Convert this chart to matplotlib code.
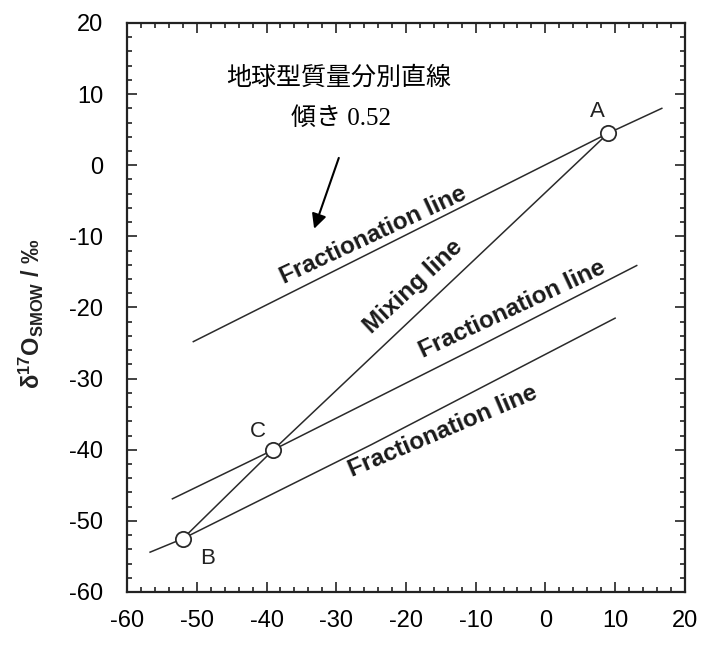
import numpy as np
import matplotlib
matplotlib.use('Agg')
import matplotlib.pyplot as plt
from matplotlib.ticker import MultipleLocator

plt.rcParams['font.family'] = ['Liberation Sans', 'DejaVu Sans']
plt.rcParams['axes.unicode_minus'] = False
plt.rcParams['mathtext.fontset'] = 'custom'
plt.rcParams['mathtext.rm'] = 'Liberation Sans'
plt.rcParams['mathtext.it'] = 'Liberation Sans'
plt.rcParams['mathtext.bf'] = 'Liberation Sans:bold'

# lines (delta18O, delta17O)
frac_top_x = [-50.5, -20, 9, 16.7]
frac_top_y = [-24.8, -9.8, 4.5, 8.0]
mixing_x = [-52, -39, 9]
mixing_y = [-52.5, -40, 4.5]
frac_mid_x = [-53.5, -39, -10, 13.1]
frac_mid_y = [-46.9, -40, -25.7, -14.1]
frac_bot_x = [-56.7, -52, -25, 10]
frac_bot_y = [-54.4, -52.5, -39.3, -21.5]

# points A, B, C
pt_names = ['A', 'B', 'C']
pt_x = [9, -52, -39]
pt_y = [4.5, -52.5, -40]
pt_label_x = [7.4, -48.5, -41.2]
pt_label_y = [7.6, -55.3, -37.4]

fig = plt.figure(figsize=(7.06, 6.46), dpi=100)
ax = fig.add_axes([0.180, 0.0836, 0.790, 0.8808])

lc = '#2a2a2a'
for xs, ys in [(frac_top_x, frac_top_y), (mixing_x, mixing_y),
               (frac_mid_x, frac_mid_y), (frac_bot_x, frac_bot_y)]:
    ax.plot(xs, ys, color=lc, lw=1.1, zorder=2)

ax.plot(pt_x, pt_y, 'o', ms=11, mfc='white', mec=lc, mew=1.3, zorder=3)
for n, lx, ly in zip(pt_names, pt_label_x, pt_label_y):
    ax.text(lx, ly, n, fontsize=16, ha='center', va='center', color='#222')

# line labels
lab = dict(fontsize=17.5, fontweight='bold', ha='center', va='center', color='#1a1a1a')
ax.text(-24.7, -9.9, 'Fractionation line', rotation=25, **lab)
ax.text(-19.0, -17.0, 'Mixing line', rotation=43, **lab)
ax.text(-4.8, -20.3, 'Fractionation line', rotation=25, **lab)
ax.text(-14.7, -37.4, 'Fractionation line', rotation=23, **lab)

# japanese annotation + arrow
jp = ['Liberation Serif', 'Noto Sans CJK JP']
ax.text(-29.7, 12.3, '地球型質量分別直線', family=jp, fontsize=18, ha='center', va='center')
ax.text(-29.3, 6.6, '傾き 0.52', family=jp, fontsize=18, ha='center', va='center')
ax.annotate('', xy=(-33.3, -9.3), xytext=(-29.5, 1.4),
            arrowprops=dict(arrowstyle='-|>', color='black', lw=1.5, mutation_scale=22))

ax.set_xlim(-60, 20)
ax.set_ylim(-60, 20)
ax.xaxis.set_major_locator(MultipleLocator(10))
ax.yaxis.set_major_locator(MultipleLocator(10))
ax.xaxis.set_minor_locator(MultipleLocator(2))
ax.yaxis.set_minor_locator(MultipleLocator(2))
ax.tick_params(which='both', direction='in', top=True, right=True, width=1.2, color='#222')
ax.tick_params(which='major', length=7.5)
ax.tick_params(which='minor', length=3.5)
ax.tick_params(axis='x', labelsize=17, pad=13)
ax.tick_params(axis='y', labelsize=17, pad=17)
for s in ax.spines.values():
    s.set_linewidth(1.6)
    s.set_color('#222')

ax.set_ylabel(r'$\mathbf{\delta^{17}O_{SMOW}}$ / ‰', fontsize=17, fontweight='bold', color='#222')
ax.yaxis.set_label_coords(-0.145, 0.49)

fig.savefig('out.png', dpi=100)
